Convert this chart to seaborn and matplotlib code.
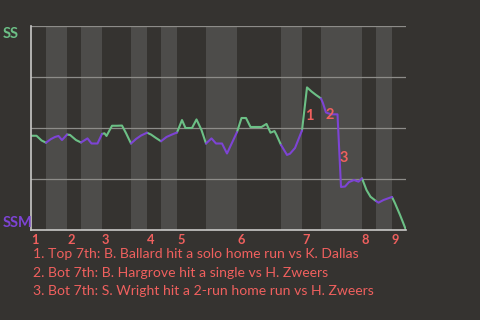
import matplotlib
matplotlib.use("Agg")
import matplotlib.pyplot as plt
import seaborn as sns
import pandas as pd

# half-inning boundaries (game progress units), top halves at even indices
half_bounds = [0, 3, 7.2, 10, 14.2, 20, 23.2, 26, 29.2, 35, 41.2, 50, 54.2, 58, 66.2, 69, 72.2, 75]
innings = ["1", "2", "3", "4", "5", "6", "7", "8", "9"]

# win probability for SS along the game
x_pos = [0, 1.1, 2.1, 3,
         4, 4.8, 5.5, 6.2, 7.2,
         7.8, 9, 10,
         11.3, 12.1, 13.3, 14.2,
         14.7, 15.1, 16.2, 17.2, 18.2, 19, 20,
         21, 22, 23.2,
         24, 25, 26,
         27.1, 28.1, 29.2,
         30.2, 30.9, 32.2, 33.1, 34.1, 35,
         36.1, 37, 38.2, 39.2, 41.2,
         42.1, 43, 43.9, 46.1, 47.1, 47.9, 48.7, 49.1, 50,
         51.2, 51.8, 52.8, 54.2,
         55.2, 56.1, 57, 58,
         58.4, 59, 60, 61.3, 62, 62.8, 63.6, 64.6, 65.5, 66.2,
         67.1, 67.9, 69,
         69.5, 70.5, 72.2,
         72.8, 73.8, 75]
ss_prob = [0.462, 0.462, 0.439, 0.428,
           0.446, 0.456, 0.461, 0.441, 0.468,
           0.466, 0.441, 0.429,
           0.449, 0.424, 0.424, 0.471,
           0.474, 0.461, 0.511, 0.511, 0.512, 0.475, 0.424,
           0.446, 0.463, 0.477,
           0.468, 0.451, 0.435,
           0.456, 0.467, 0.478,
           0.539, 0.500, 0.500, 0.542, 0.490, 0.424,
           0.449, 0.424, 0.424, 0.375, 0.480,
           0.549, 0.549, 0.505, 0.505, 0.520, 0.477, 0.485, 0.466, 0.417,
           0.368, 0.374, 0.402, 0.488,
           0.699, 0.679, 0.662, 0.645,
           0.621, 0.576, 0.567, 0.567, 0.211, 0.213, 0.235, 0.245, 0.237, 0.253,
           0.196, 0.163, 0.142,
           0.134, 0.147, 0.162,
           0.131, 0.074, 0.0]

team_top = "SS"
team_bottom = "SSM"

note_marks = ["1", "2", "3"]
note_x = [55.6, 59.7, 62.6]
note_p = [0.560, 0.564, 0.353]
notes = ["1. Top 7th: B. Ballard hit a solo home run vs K. Dallas",
         "2. Bot 7th: B. Hargrove hit a single vs H. Zweers",
         "3. Bot 7th: S. Wright hit a 2-run home run vs H. Zweers"]

BG = "#353330"
BAND = "#4d4c4a"
GRID = "#8d8c89"
AXIS = "#c9c9c7"
GREEN = "#6cc086"
PURPLE = "#7d44d4"
SALMON = "#f0605e"

sns.set_style("dark", rc={"axes.facecolor": BG, "figure.facecolor": BG})
plt.rcParams["font.family"] = ["Lato", "DejaVu Sans"]

fig = plt.figure(figsize=(4.8, 3.2), dpi=100)
ax = fig.add_axes([31 / 480, 90 / 320, 375 / 480, 204 / 320])
ax.set_facecolor(BG)

for i in range(1, len(half_bounds) - 1, 2):
    ax.axvspan(half_bounds[i], half_bounds[i + 1], color=BAND, lw=0, zorder=0)
for g in [0.25, 0.5, 0.75, 1.0]:
    ax.axhline(g, color=GRID, lw=0.9, zorder=1)

rows = []
for h in range(len(half_bounds) - 1):
    lo, hi = half_bounds[h], half_bounds[h + 1]
    for x, p in zip(x_pos, ss_prob):
        if lo - 1e-9 <= x <= hi + 1e-9:
            rows.append({"x": x, "p": p, "half": h, "side": "top" if h % 2 == 0 else "bot"})
df = pd.DataFrame(rows)

sns.lineplot(data=df, x="x", y="p", hue="side", units="half", estimator=None, sort=False,
             palette={"top": GREEN, "bot": PURPLE}, legend=False, lw=1.5, ax=ax, zorder=3)

ax.set_xlim(0, 75)
ax.set_ylim(0, 1)
ax.set_xticks([])
ax.set_yticks([])
ax.set_xlabel("")
ax.set_ylabel("")
ax.grid(False)
for s in ["top", "right"]:
    ax.spines[s].set_visible(False)
for s in ["left", "bottom"]:
    ax.spines[s].set_visible(True)
    ax.spines[s].set_color(AXIS)
    ax.spines[s].set_linewidth(1.2)
    ax.spines[s].set_zorder(4)

for k, lab in enumerate(innings):
    ax.text(half_bounds[2 * k], -0.02, lab, transform=ax.get_xaxis_transform(),
            ha="left", va="top", color=SALMON, fontsize=9.3, fontweight="bold")

for m, x, p in zip(note_marks, note_x, note_p):
    ax.text(x, p, m, ha="center", va="center", color=SALMON, fontsize=10.5,
            fontweight="bold", zorder=5)

fig.text(3 / 480, 1 - 38.3 / 320, team_top, color=GREEN, fontsize=10.5,
         fontweight="bold", ha="left", va="baseline")
fig.text(3 / 480, 1 - 226.7 / 320, team_bottom, color=PURPLE, fontsize=10.5,
         fontweight="bold", ha="left", va="baseline")

for i, line in enumerate(notes):
    fig.text(33 / 480, 1 - (258.3 + 18.3 * i) / 320, line, color=SALMON,
             fontsize=10.1, ha="left", va="baseline")

fig.savefig("out.png", dpi=100, facecolor=BG)
